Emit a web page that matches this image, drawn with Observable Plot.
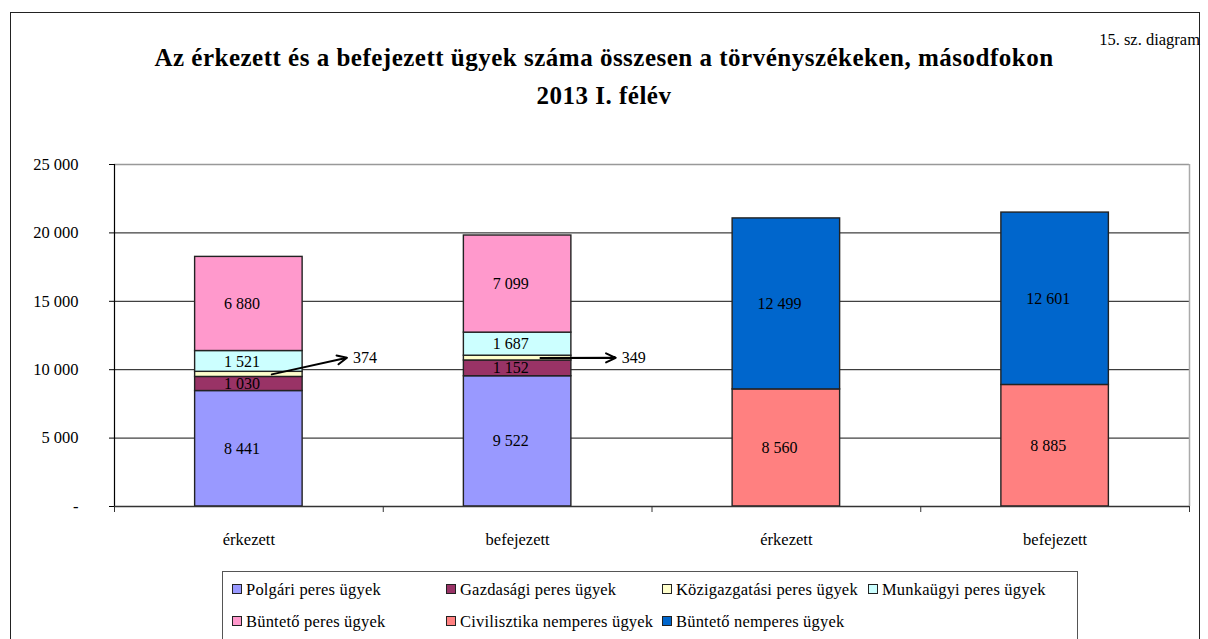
<!DOCTYPE html>
<html>
<head>
<meta charset="utf-8">
<script src="https://cdn.jsdelivr.net/npm/d3@7"></script>
<script src="https://cdn.jsdelivr.net/npm/@observablehq/plot@0.6"></script>
<style>
  html, body { margin: 0; padding: 0; background: #fff; overflow: hidden; }
  #wrap { position: relative; width: 1208px; height: 639px; font-family: "Liberation Serif", serif; color: #000; }
  #frame { position: absolute; left: 10px; top: 12px; width: 1190px; height: 660px; border: 1.5px solid #222; box-sizing: border-box; }
  #title { position: absolute; left: 0; width: 1208px; top: 39px; text-align: center; font-weight: bold; font-size: 25px; line-height: 38px; letter-spacing: 0.5px; }
  #diag { position: absolute; right: 8px; top: 30px; font-size: 16.5px; letter-spacing: 0px; }
  #chart { position: absolute; left: 0; top: 0; }
  #legend { position: absolute; left: 222px; top: 571px; width: 856px; height: 80px; border: 1px solid #555; box-sizing: border-box; }
  .item { position: absolute; font-size: 16.5px; letter-spacing: 0.2px; white-space: nowrap; line-height: 18px; }
  .sw { display: inline-block; width: 8px; height: 8px; border: 1.3px solid #222; margin-right: 4px; vertical-align: 1px; }
</style>
</head>
<body>
<div id="wrap">
  <div id="frame"></div>
  <div id="title">Az érkezett és a befejezett ügyek száma összesen a törvényszékeken, másodfokon<br>2013 I. félév</div>
  <div id="diag">15. sz. diagram</div>
  <div id="chart"></div>
  <div id="legend"></div>
</div>
<script>
const categories = ["érkezett", "befejezett", "érkezett", "befejezett"];
const series = ["Polgári peres ügyek", "Gazdasági peres ügyek", "Közigazgatási peres ügyek", "Munkaügyi peres ügyek", "Büntető peres ügyek", "Civilisztika nemperes ügyek", "Büntető nemperes ügyek"];
const colors = ["#9999FF", "#993366", "#FFFFCC", "#CCFFFF", "#FF99CC", "#FF8080", "#0066CC"];
const polgari      = [8441, 9522, null, null];
const gazdasagi    = [1030, 1152, null, null];
const kozigazgatasi= [374, 349, null, null];
const munkaugyi    = [1521, 1687, null, null];
const buntetoPeres = [6880, 7099, null, null];
const civilisztika = [null, null, 8560, 8885];
const buntetoNem   = [null, null, 12499, 12601];
const yTicks = [0, 5000, 10000, 15000, 20000, 25000];
const calloutSeries = "Közigazgatási peres ügyek";
const calloutLevel = 10870;

const values = [polgari, gazdasagi, kozigazgatasi, munkaugyi, buntetoPeres, civilisztika, buntetoNem];
const rows = [];
categories.forEach((c, i) => {
  let acc = 0;
  series.forEach((s, k) => {
    const v = values[k][i];
    if (v == null) return;
    rows.push({i, cat: c, series: s, value: v, y1: acc, y2: acc + v, mid: acc + v / 2});
    acc += v;
  });
});
const fmt = v => d3.format(",")(v).replace(/,/g, " ");
const labelRows = rows.filter(d => d.series !== calloutSeries);
const calloutRows = rows.filter(d => d.series === calloutSeries);

const chart = Plot.plot({
  width: 1208,
  height: 560,
  marginLeft: 114,
  marginRight: 19,
  marginTop: 164,
  marginBottom: 54,
  style: {fontFamily: "Liberation Serif, serif", background: "transparent", color: "#000"},
  x: {domain: [0, categories.length], axis: null},
  y: {domain: [0, 25000], axis: null},
  color: {domain: series, range: colors},
  marks: [
    Plot.ruleY(yTicks.slice(1, -1), {stroke: "#111", strokeWidth: 1}),
    Plot.ruleY([25000], {stroke: "#999", strokeWidth: 1.5}),
    Plot.ruleX([categories.length], {stroke: "#aaa", strokeWidth: 1.5}),
    Plot.rect(rows, {x1: d => d.i + 0.3, x2: d => d.i + 0.7, y1: "y1", y2: "y2", fill: "series", stroke: "#222", strokeWidth: 1.4}),
    Plot.text(labelRows, {x: d => d.i + 0.5, y: "mid", text: d => fmt(d.value), dx: -7, fontSize: 16, fill: "#000", style: "letter-spacing:-1px"}),
    Plot.arrow(calloutRows, {x1: d => d.i + 0.585, y1: "mid", x2: d => d.i + 0.865, y2: () => calloutLevel, stroke: "#000", strokeWidth: 2, headLength: 8, headAngle: 50}),
    Plot.text(calloutRows, {x: d => d.i + 0.865, y: () => calloutLevel, text: d => fmt(d.value), dx: 6, textAnchor: "start", fontSize: 16, fill: "#000", style: "letter-spacing:-0.5px"}),
    Plot.ruleX([0], {stroke: "#000", strokeWidth: 1.2}),
    Plot.ruleY([0], {stroke: "#333", strokeWidth: 1.5}),
    Plot.axisY({ticks: yTicks, tickFormat: d => d === 0 ? "-" : fmt(d), tickSize: 5, tickPadding: 31, fontSize: 16.5, anchor: "left", style: "letter-spacing:-0.3px"}),
    Plot.axisX({ticks: d3.range(categories.length + 1), tickFormat: () => "", tickSize: 6, anchor: "bottom", stroke: "#333"}),
    Plot.text(categories, {x: (d, i) => i + 0.5, y: () => 0, text: d => d, dy: 33, fontSize: 16.5, fill: "#000", style: "letter-spacing:-0.3px"})
  ]
});
document.getElementById("chart").appendChild(chart);

const legend = document.getElementById("legend");
const colX = [9, 223, 439, 645];
series.forEach((s, k) => {
  const row = Math.floor(k / 4), col = k % 4;
  const el = document.createElement("div");
  el.className = "item";
  el.style.left = colX[col] + "px";
  el.style.top = (9 + row * 32) + "px";
  el.innerHTML = `<span class="sw" style="background:${colors[k]}"></span>${s}`;
  legend.appendChild(el);
});
</script>
</body>
</html>
